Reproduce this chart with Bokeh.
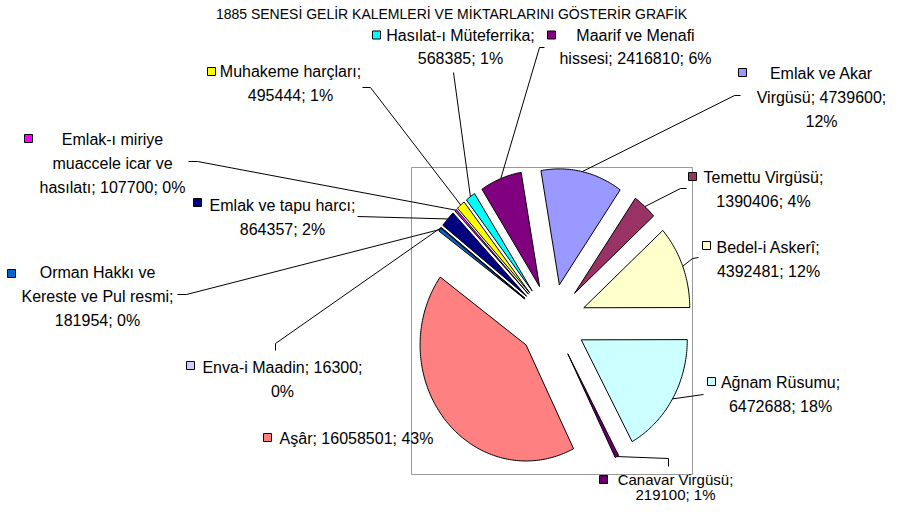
import math
from bokeh.plotting import figure
from bokeh.models import Range1d, ColumnDataSource
from bokeh.core.properties import value
from bokeh.embed import file_html
from bokeh.resources import INLINE

# ---------------- data ----------------
title_text = "1885 SENESİ GELİR KALEMLERİ VE MİKTARLARINI GÖSTERİR GRAFİK"
names = ["Emlak ve Akar Virgüsü", "Temettu Virgüsü", "Bedel-i Askerî", "Ağnam Rüsumu",
         "Canavar Virgüsü", "Aşâr", "Orman Hakkı ve Kereste ve Pul resmi", "Enva-i Maadin",
         "Emlak ve tapu harcı", "Emlak-ı miriye muaccele icar ve hasılatı",
         "Muhakeme harçları", "Hasılat-ı Müteferrika", "Maarif ve Menafi hissesi"]
amounts = [4739600, 1390406, 4392481, 6472688, 219100, 16058501, 181954, 16300,
           864357, 107700, 495444, 568385, 2416810]
pct_labels = ["12%", "4%", "12%", "18%", "1%", "43%", "0%", "0%", "2%", "0%", "1%", "1%", "6%"]
colors = ["#9999FF", "#993366", "#FFFFCC", "#CCFFFF", "#660066", "#FF8080", "#0066CC",
          "#CCCCFF", "#000080", "#FF00FF", "#FFFF00", "#00FFFF", "#800080"]

# ---------------- layout (pixel positions of the page) ----------------
FIRST_SLICE_DEG = 350.0
CX, CY = 551.5, 320.5
RX, RY = 106.0, 116.0
EX, EY = 34.0, 37.0
BOX = (411, 167, 692, 474)
FONT = value("Liberation Sans")

words_per_line = [[3, 2, 1], [2, 2], [2, 2], [2, 2], [2, 2], [3], [3, 4, 2], [3, 1],
                  [4, 2], [2, 3, 3], [2, 2], [2, 2], [3, 3]]
line_gap = [24, 24, 24, 24, 15, 24, 24, 24, 24, 24, 24, 23, 23]
font_px = [16, 16, 16, 16, 15, 16, 16, 16, 16, 16, 16, 16, 16]
text_cx = [821, 763, 768, 780, 675, 356, 97, 282, 282, 112, 290, 460, 635]
text_y0 = [73, 177, 247, 382, 479, 438, 272, 367, 205, 139, 71, 35, 35]
key_xy = [(742, 72), (692, 176), (706, 245), (711, 381), (603, 479), (267, 437), (11, 273),
          (190, 365), (197, 202), (28, 138), (211, 71), (376, 34.5), (551, 34.5)]
leader_pts = [[(740, 95), (734, 95)], [(686, 188), (680, 188)], [(698, 257), (692, 258)],
              [(703, 394)], [(668, 466), (668, 458)], None, [(177, 294), (186, 294)],
              [(275, 350), (275, 343)], [(357, 216)], [(188, 161), (197, 161)],
              [(362, 87), (370, 87)], [(453, 72)], [(544, 47), (539, 47)]]


def Y(py):
    return 520 - py


p = figure(width=886, height=504, x_range=Range1d(0, 886), y_range=Range1d(16, 520),
           output_backend="svg", toolbar_location=None, min_border=0)
p.axis.visible = False
p.grid.visible = False
p.outline_line_color = None
p.background_fill_color = "white"
p.border_fill_color = "white"

# plot-area box
p.quad(left=BOX[0], right=BOX[2], bottom=Y(BOX[3]), top=Y(BOX[1]),
       fill_color=None, line_color="#999999", line_width=1)

# pie slices (exploded, clockwise from 12 o'clock)
total = float(sum(amounts))
xs, ys, mids = [], [], []
acc = FIRST_SLICE_DEG
for a in amounts:
    span = a / total * 360.0
    t1, t2 = acc, acc + span
    acc = t2
    tm = math.radians((t1 + t2) / 2)
    ox = CX + EX * math.sin(tm)
    oy = CY - EY * math.cos(tm)
    n = max(2, int(span / 1.0) + 2)
    px = [ox]
    py = [oy]
    for i in range(n + 1):
        t = math.radians(t1 + (t2 - t1) * i / n)
        px.append(ox + RX * math.sin(t))
        py.append(oy - RY * math.cos(t))
    xs.append(px)
    ys.append([Y(v) for v in py])
    mids.append((ox + RX * math.sin(tm), oy - RY * math.cos(tm)))

p.patches(xs=xs, ys=ys, fill_color=colors, line_color="black", line_width=1)

# leader lines
lx, ly = [], []
for pts, m in zip(leader_pts, mids):
    if pts is None:
        continue
    lx.append([q[0] for q in pts] + [m[0]])
    ly.append([Y(q[1]) for q in pts] + [Y(m[1])])
p.multi_line(xs=lx, ys=ly, line_color="black", line_width=1)

# labels
tx, ty, tt, fs = [], [], [], []
for i, name in enumerate(names):
    words = f"{name}; {amounts[i]}; {pct_labels[i]}".split(" ")
    k = 0
    for j, cnt in enumerate(words_per_line[i]):
        tx.append(text_cx[i])
        ty.append(Y(text_y0[i] + j * line_gap[i]))
        tt.append(" ".join(words[k:k + cnt]))
        fs.append(f"{font_px[i]}px")
        k += cnt
lab_src = ColumnDataSource(dict(x=tx, y=ty, text=tt, size=fs))
p.text(x="x", y="y", text="text", text_font_size="size", source=lab_src,
       text_align="center", text_baseline="middle", text_font=FONT, text_color="black")

# legend keys
p.rect(x=[k[0] for k in key_xy], y=[Y(k[1]) for k in key_xy], width=8, height=8,
       fill_color=colors, line_color="black", line_width=1)

# title
p.text(x=[451], y=[Y(13)], text=[title_text], text_align="center", text_baseline="middle",
       text_font=FONT, text_font_size="14px", text_color="black")

open("out.html", "w").write(file_html(p, INLINE))
